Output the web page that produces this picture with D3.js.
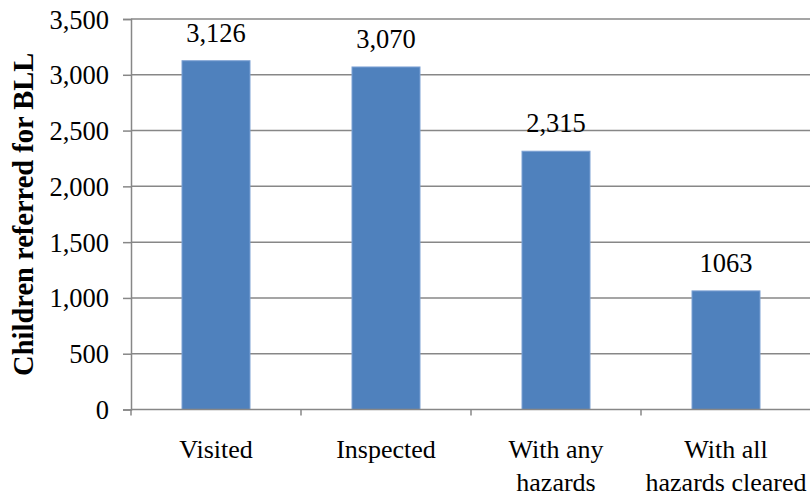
<!DOCTYPE html>
<html><head><meta charset="utf-8">
<script src="https://cdn.jsdelivr.net/npm/d3@7"></script>
<style>body{margin:0;background:#fff}svg{display:block}</style>
</head><body>
<script>
const categories = [["Visited"], ["Inspected"], ["With any", "hazards"], ["With all", "hazards cleared"]];
const values = [3126, 3070, 2315, 1063];
const valueLabels = ["3,126", "3,070", "2,315", "1063"];
const yTicks = [0, 500, 1000, 1500, 2000, 2500, 3000, 3500];
const yTitle = "Children referred for BLL";

const FONT = "'Liberation Serif', 'Times New Roman', Times, serif";
const W = 810, H = 497;
const m = {left: 131, right: 0, top: 19, bottom: 87.5};
const svg = d3.select("body").append("svg").attr("width", W).attr("height", H);
const x = d3.scaleBand().domain(d3.range(categories.length)).range([m.left, m.left + 680]).paddingInner(0.6).paddingOuter(0.3);
const y = d3.scaleLinear().domain([0, 3500]).range([H - m.bottom, m.top]);
const grid = "#878787";

// gridlines
svg.append("g").selectAll("line").data(yTicks.filter(d => d > 0)).join("line")
  .attr("x1", m.left).attr("x2", W).attr("y1", d => y(d)).attr("y2", d => y(d))
  .attr("stroke", grid).attr("stroke-width", 1.5);

// y axis
const ya = svg.append("g").attr("transform", `translate(${m.left},0)`)
  .call(d3.axisLeft(y).tickValues(yTicks).tickSize(8).tickPadding(14).tickFormat(d3.format(",")));
ya.attr("font-family", null);
ya.select(".domain").attr("stroke", grid).attr("stroke-width", 1.5);
ya.selectAll(".tick line").attr("stroke", grid).attr("stroke-width", 1.5);
ya.selectAll("text").style("font-family", FONT).style("font-size", "26.5px").attr("fill", "#000").attr("dy", "0.34em");

// bars
svg.append("g").selectAll("rect").data(values).join("rect")
  .attr("x", (d, i) => x(i)).attr("width", x.bandwidth())
  .attr("y", d => y(d)).attr("height", d => y(0) - y(d))
  .attr("fill", "#4F81BD").attr("stroke", "#7DA1D4").attr("stroke-width", 1);

// value labels
svg.append("g").selectAll("text").data(values).join("text")
  .attr("x", (d, i) => x(i) + x.bandwidth() / 2).attr("y", d => y(d) - 19)
  .attr("text-anchor", "middle").style("font-family", FONT).style("font-size", "26.5px").attr("fill", "#000")
  .text((d, i) => valueLabels[i]);

// x axis
const step = x.step();
const xa = svg.append("g");
xa.append("line").attr("x1", m.left).attr("x2", W).attr("y1", y(0)).attr("y2", y(0)).attr("stroke", grid).attr("stroke-width", 1.5);
xa.selectAll("line.tk").data(d3.range(categories.length + 1)).join("line").attr("class", "tk")
  .attr("x1", i => m.left + i * step).attr("x2", i => m.left + i * step)
  .attr("y1", y(0)).attr("y2", y(0) + 6).attr("stroke", grid).attr("stroke-width", 1.5);
const cl = xa.selectAll("text").data(categories).join("text")
  .attr("x", (d, i) => x(i) + x.bandwidth() / 2).attr("y", 458)
  .attr("text-anchor", "middle").style("font-family", FONT).style("font-size", "26px").attr("fill", "#000");
cl.selectAll("tspan").data(d => d).join("tspan")
  .attr("x", function() { return this.parentNode.getAttribute("x"); })
  .attr("dy", (d, i) => i === 0 ? 0 : 33).text(d => d);

// y title
svg.append("text").attr("transform", `translate(33,${(y(0) + y(3500)) / 2}) rotate(-90)`)
  .attr("text-anchor", "middle").style("font-family", FONT).style("font-size", "28.5px")
  .attr("font-weight", "bold").attr("fill", "#000").text(yTitle);
</script>
</body></html>
